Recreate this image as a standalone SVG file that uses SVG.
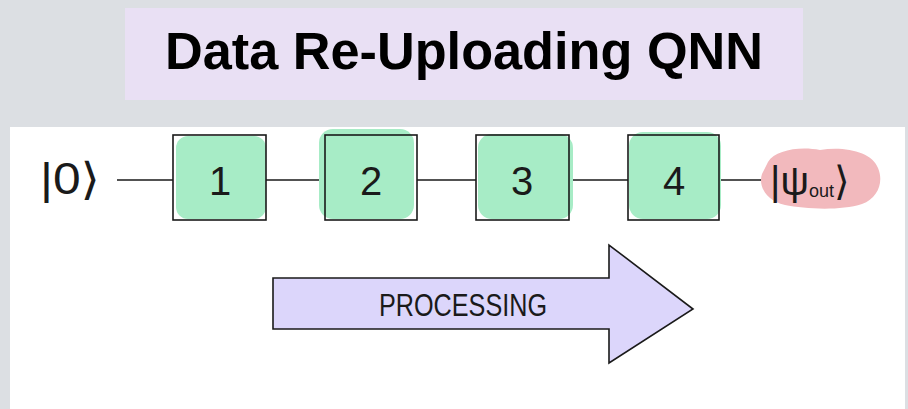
<svg xmlns="http://www.w3.org/2000/svg" width="908" height="409" viewBox="0 0 908 409">
<style>
.hand{font-family:"Liberation Sans","DejaVu Sans",sans-serif;fill:#1a1a1a;}
.box{fill:none;stroke:#1a1a1a;stroke-width:1.6;}
.wire{stroke:#1a1a1a;stroke-width:1.5;fill:none;}
.blob{fill:#a7ecc6;}
</style>
<rect x="0" y="0" width="908" height="409" fill="#dcdfe3"/>
<g id="title">
<rect x="125" y="8" width="678" height="92" fill="#e9e0f4"/>
<text x="464" y="69" text-anchor="middle" font-family="Liberation Sans, Arial, sans-serif" font-weight="bold" font-size="51" fill="#000" textLength="598" lengthAdjust="spacingAndGlyphs">Data Re-Uploading QNN</text>
</g>
<rect x="10" y="127" width="895" height="282" fill="#ffffff"/>
<g id="connectors">
<path class="wire" d="M117 180H173M266 180H325M417 180H476M569 180H628M719 180H766"/>
</g>
<g id="input">
<text class="hand" x="40" y="194" font-size="44" textLength="60" lengthAdjust="spacingAndGlyphs">|0⟩</text>
</g>
<g id="gate1">
<rect class="blob" x="176" y="136" width="90" height="83" rx="12"/>
<rect class="box" x="173" y="135" width="93" height="85"/>
<text class="hand" x="220" y="195" font-size="40" text-anchor="middle">1</text>
</g>
<g id="gate2">
<rect class="blob" x="319" y="129" width="95" height="90" rx="14"/>
<rect class="box" x="325" y="135" width="92" height="85"/>
<text class="hand" x="371" y="195" font-size="40" text-anchor="middle">2</text>
</g>
<g id="gate3">
<rect class="blob" x="478" y="134" width="95" height="85" rx="14"/>
<rect class="box" x="476" y="135" width="93" height="85"/>
<text class="hand" x="522" y="195" font-size="40" text-anchor="middle">3</text>
</g>
<g id="gate4">
<rect class="blob" x="629" y="132" width="92" height="87" rx="14"/>
<rect class="box" x="628" y="135" width="91" height="85"/>
<text class="hand" x="674" y="195" font-size="40" text-anchor="middle">4</text>
</g>
<g id="output">
<path d="M768 162C775 150 800 146 820 150C845 146 872 152 878 168C884 182 878 198 862 204C840 211 805 209 785 205C766 201 758 186 762 174Z" fill="#f2b9bd"/>
<text class="hand" x="770" y="195" font-size="40">|ψ<tspan font-size="18" dy="2">out</tspan><tspan dy="-2">⟩</tspan></text>
</g>
<g id="processing">
<path d="M273 278H609V245L693 309L609 363V329H273Z" fill="#dcd6fb" stroke="#1a1a1a" stroke-width="1.6" stroke-linejoin="miter"/>
<text class="hand" x="463" y="316" font-size="32" text-anchor="middle" textLength="168" lengthAdjust="spacingAndGlyphs">PROCESSING</text>
</g>
</svg>
